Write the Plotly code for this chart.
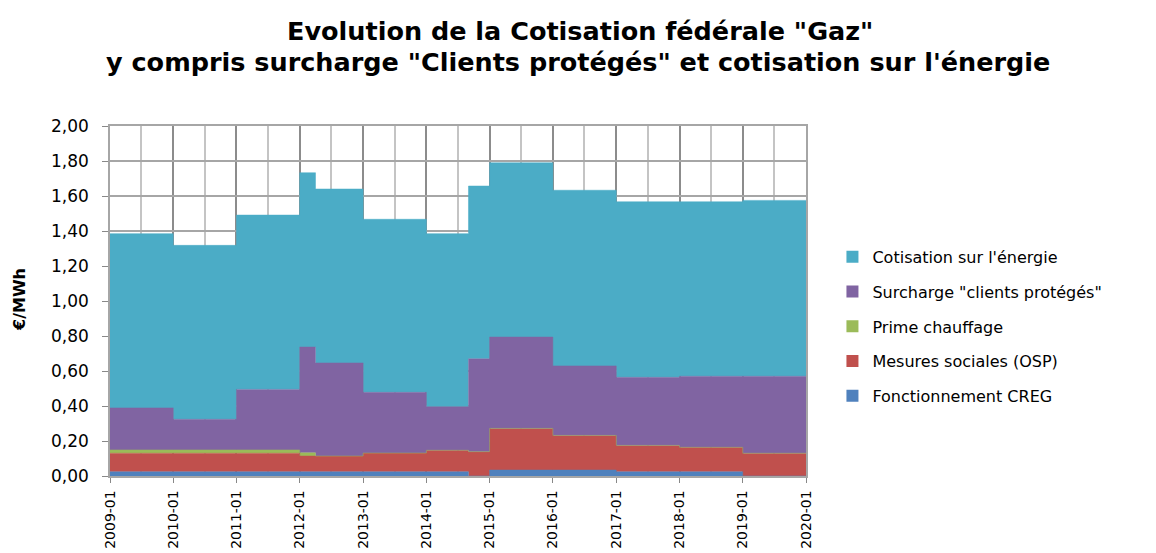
import plotly.graph_objects as go

# Start date of each tariff period; the last date closes the final period
periods = ["2009-01-01", "2010-01-01", "2011-01-01", "2012-01-01", "2012-04-01",
           "2013-01-01", "2014-01-01", "2014-09-01", "2015-01-01", "2016-01-01",
           "2017-01-01", "2018-01-01", "2019-01-01", "2020-01-01"]

# €/MWh per period (13 periods)
fonctionnement_creg = [0.025, 0.025, 0.025, 0.025, 0.025, 0.025, 0.025, 0.000,
                       0.034, 0.034, 0.025, 0.025, 0.000]
mesures_sociales = [0.105, 0.105, 0.105, 0.089, 0.089, 0.106, 0.122, 0.139,
                    0.238, 0.198, 0.150, 0.139, 0.130]
prime_chauffage = [0.019, 0.019, 0.019, 0.019, 0.000, 0.000, 0.000, 0.000,
                   0.000, 0.000, 0.000, 0.000, 0.000]
surcharge_clients = [0.240, 0.175, 0.346, 0.604, 0.532, 0.347, 0.249, 0.531,
                     0.522, 0.397, 0.389, 0.406, 0.440]
cotisation_energie = [0.996, 0.994, 0.996, 0.996, 0.994, 0.989, 0.989, 0.987,
                      0.996, 1.004, 1.003, 0.997, 1.005]

series = [
    ("Fonctionnement CREG", fonctionnement_creg, "#4F81BD"),
    ("Mesures sociales (OSP)", mesures_sociales, "#C0504D"),
    ("Prime chauffage", prime_chauffage, "#9BBB59"),
    ('Surcharge "clients protégés"', surcharge_clients, "#8064A2"),
    ("Cotisation sur l'énergie", cotisation_energie, "#4BACC6"),
]

fig = go.Figure()

# Stacked step areas, bottom to top
for name, vals, color in series:
    y = list(vals) + [vals[-1]]
    fig.add_trace(go.Scatter(
        x=periods, y=y, name=name, mode="lines",
        line=dict(shape="hv", width=0.5, color=color),
        fillcolor=color, stackgroup="gaz", showlegend=False,
        hovertemplate="%{x|%Y-%m}: %{y:.3f} €/MWh<extra>" + name + "</extra>",
    ))

# Legend entries with square swatches, top series first
for i, (name, vals, color) in enumerate(reversed(series)):
    fig.add_trace(go.Scatter(
        x=[None], y=[None], mode="markers", name=name,
        marker=dict(symbol="square", size=12, color=color),
        legendgroup=f"g{i}", showlegend=True,
    ))

font_family = "DejaVu Sans"
title_font = dict(family=font_family, size=25.5, color="#000000")

fig.update_layout(
    width=1156, height=553,
    margin=dict(l=110, r=350, t=126, b=77),
    paper_bgcolor="white", plot_bgcolor="white",
    separators=", ",
    font=dict(family=font_family, color="#000000"),
    showlegend=True,
    legend=dict(
        x=1.038, xanchor="left", y=0.675, yanchor="top",
        traceorder="grouped", tracegroupgap=11,
        font=dict(family=font_family, size=16, color="#000000"),
        bgcolor="rgba(0,0,0,0)",
    ),
    xaxis=dict(
        type="date", range=["2009-01-01", "2020-01-01"],
        tick0="2009-01-01", dtick="M12", tickformat="%Y-%m",
        tickangle=-90, tickfont=dict(family=font_family, size=14),
        ticks="outside", ticklen=5, tickcolor="#888888",
        ticklabelstandoff=2,
        showgrid=True, gridcolor="#8c8c8c", gridwidth=1.5,
        minor=dict(dtick="M6", showgrid=True, gridcolor="#c4c4c4", gridwidth=1.5),
        showline=True, linecolor="#a6a6a6", linewidth=1.5, mirror=True,
        automargin=False, zeroline=False,
    ),
    yaxis=dict(
        range=[0, 2], dtick=0.2, tickformat=".2f",
        tickfont=dict(family=font_family, size=17),
        ticks="outside", ticklen=6, tickcolor="#888888",
        ticklabelstandoff=10,
        showgrid=True, gridcolor="#a6a6a6", gridwidth=1.5,
        showline=True, linecolor="#a6a6a6", linewidth=1.5, mirror=True,
        automargin=False, zeroline=False,
    ),
    annotations=[
        dict(text="<b>Evolution de la Cotisation fédérale \"Gaz\"</b>",
             xref="paper", yref="paper", x=(580 - 110) / 696, y=(476 - 31) / 350,
             xanchor="center", yanchor="middle", showarrow=False, font=title_font),
        dict(text="<b>y compris surcharge \"Clients protégés\" et cotisation sur l'énergie</b>",
             xref="paper", yref="paper", x=(578 - 110) / 696, y=(476 - 62) / 350,
             xanchor="center", yanchor="middle", showarrow=False, font=title_font),
        dict(text="<b>€/MWh</b>", textangle=-90,
             xref="paper", yref="paper", x=(20 - 110) / 696, y=0.503,
             xanchor="center", yanchor="middle", showarrow=False,
             font=dict(family=font_family, size=16, color="#000000")),
    ],
)

fig.write_html("out.html")
